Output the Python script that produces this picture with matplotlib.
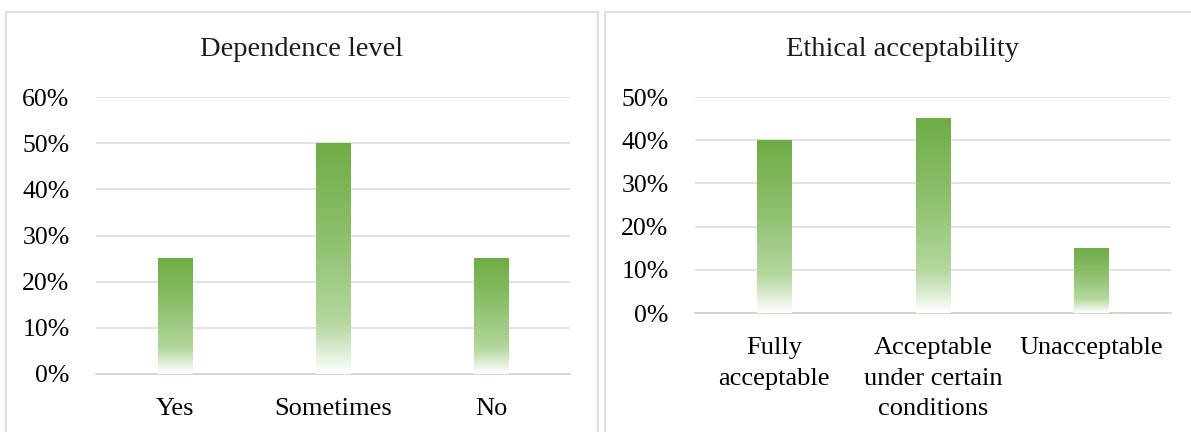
import numpy as np
import matplotlib.pyplot as plt
from matplotlib.colors import LinearSegmentedColormap
from matplotlib.patches import Rectangle
from matplotlib.ticker import PercentFormatter

plt.rcParams['font.family'] = ['Liberation Serif', 'DejaVu Serif']

# data
dep_labels = ['Yes', 'Sometimes', 'No']
dep_values = [0.25, 0.50, 0.25]

eth_labels = ['Fully\nacceptable', 'Acceptable\nunder certain\nconditions', 'Unacceptable']
eth_values = [0.40, 0.45, 0.15]

# excel-like gradient: white at the bottom, green at the top
green_cmap = LinearSegmentedColormap.from_list(
    'grad', [(0.0, '#FFFFFF'), (0.22, '#B4D79E'), (0.6, '#8DC06C'), (1.0, '#6FAC46')])
grad = np.linspace(0, 1, 256).reshape(-1, 1)

W, H = 1191, 432
fig = plt.figure(figsize=(W / 100, H / 100), dpi=100)

# panel frames
for x0, x1 in [(6, 598), (605, 1200)]:
    fig.patches.append(Rectangle((x0 / W, -0.1), (x1 - x0) / W, (H - 12) / H + 0.1,
                                 transform=fig.transFigure, fill=False,
                                 edgecolor='#D9D9D9', lw=1.2))


def draw_panel(rect, labels, values, ymax, title, title_x):
    ax = fig.add_axes(rect)
    x = np.arange(len(values))
    bw = 0.22
    bars = ax.bar(x, values, width=bw, color='none', zorder=3)
    for b in bars:
        x0 = b.get_x()
        ax.imshow(grad, cmap=green_cmap, origin='lower', aspect='auto',
                  extent=(x0, x0 + b.get_width(), 0, b.get_height()), zorder=3)
    ax.set_xlim(-0.5, len(values) - 0.5)
    ax.set_ylim(0, ymax)
    ax.set_yticks(np.arange(0, ymax + 0.001, 0.1))
    ax.yaxis.set_major_formatter(PercentFormatter(1.0, decimals=0))
    ax.set_xticks(x)
    ax.set_xticklabels(labels, linespacing=1.5)
    ax.grid(axis='y', color='#DDDDDD', lw=1.2, zorder=0)
    for s in ['top', 'right', 'left']:
        ax.spines[s].set_visible(False)
    ax.spines['bottom'].set_color('#D0D0D0')
    ax.spines['bottom'].set_linewidth(1.2)
    ax.tick_params(axis='y', length=0, pad=19, labelsize=18.5)
    ax.tick_params(axis='x', length=0, pad=17.5, labelsize=19)
    fig.text(title_x / W, 1 - 50 / H, title, ha='center', va='center',
             fontsize=20.5, color='#1A1A1A')
    return ax


draw_panel([96 / W, (H - 374) / H, 474 / W, 277 / H], dep_labels, dep_values, 0.6,
           'Dependence level', 302)
draw_panel([695 / W, (H - 313) / H, 476 / W, 216 / H], eth_labels, eth_values, 0.5,
           'Ethical acceptability', 902)

fig.savefig('out.png', dpi=100)
